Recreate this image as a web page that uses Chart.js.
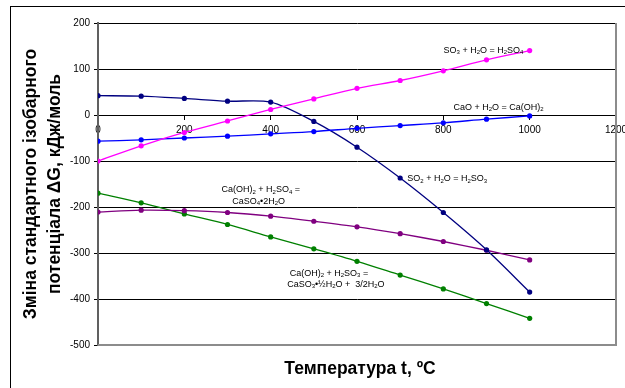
<!DOCTYPE html>
<html>
<head>
<meta charset="utf-8">
<script src="https://cdn.jsdelivr.net/npm/chart.js@4.4.0/dist/chart.umd.min.js"></script>
<style>
  html, body { margin: 0; padding: 0; background: #fff; }
</style>
</head>
<body>
<canvas id="myChart" width="625" height="388"></canvas>
<script>
// температура, °C
var temperatures = [0, 100, 200, 300, 400, 500, 600, 700, 800, 900, 1000];

// ΔG, кДж/моль
var so3Values    = [-100, -67, -38, -13, 12, 35, 58, 75, 96, 120, 140];
var caoValues    = [-57, -54, -50, -46, -41, -36, -29, -23, -17, -9, -2];
var so2Values    = [42, 41, 36, 30, 28, -14, -70, -137, -212, -293, -385];
var sulfatValues = [-211, -207, -208, -212, -220, -231, -243, -258, -275, -294, -315];
var sulfitValues = [-170, -191, -215, -238, -265, -291, -318, -348, -378, -410, -442];

var xTicks = [0, 200, 400, 600, 800, 1000, 1200];
var yTicks = [200, 100, 0, -100, -200, -300, -400, -500];

// "_" = следующий символ нижним индексом
var reactions = [
    ['SO_3 + H_2O = H_2SO_4'],
    ['CaO + H_2O = Ca(OH)_2'],
    ['SO_2 + H_2O = H_2SO_3'],
    ['Ca(OH)_2 + H_2SO_4 =', 'CaSO_4•2H_2O'],
    ['Ca(OH)_2 + H_2SO_3 =', 'CaSO_3•½H_2O +  3/2H_2O']
];

var yTitle = ['Зміна стандартного ізобарного', 'потенціала ΔG, кДж/моль'];
var xTitle = 'Температура t, ºC';

var FONT = '"Liberation Sans", Arial, sans-serif';

function points(values) {
    return values.map(function(v, i) { return { x: temperatures[i], y: v }; });
}

function serie(values, color) {
    return {
        data: points(values),
        borderColor: color,
        backgroundColor: color,
        borderWidth: 1.3,
        pointRadius: 2.6,
        pointBorderWidth: 0,
        tension: 0.3
    };
}

function drawChem(ctx, text, cx, cy, size) {
    var parts = [];
    for (var i = 0; i < text.length; i++) {
        if (text[i] === '_') { parts.push({ t: text[i + 1], sub: true }); i++; }
        else parts.push({ t: text[i], sub: false });
    }
    var big = size + 'px ' + FONT;
    var small = Math.round(size * 0.7) + 'px ' + FONT;
    var w = 0;
    parts.forEach(function(p) {
        ctx.font = p.sub ? small : big;
        p.w = ctx.measureText(p.t).width;
        w += p.w;
    });
    var x = cx - w / 2;
    ctx.textAlign = 'left';
    ctx.textBaseline = 'middle';
    parts.forEach(function(p) {
        ctx.font = p.sub ? small : big;
        ctx.fillText(p.t, x, p.sub ? cy + 2 : cy);
        x += p.w;
    });
}

// положения подписей (в единицах осей)
var labelPos = [
    [[893, 141]],
    [[928, 17]],
    [[809, -139]],
    [[377, -163], [372, -188]],
    [[535, -344], [551, -368]]
];

var decor = {
    id: 'decor',
    beforeDraw: function(chart) {
        var ctx = chart.ctx;
        ctx.save();
        ctx.strokeStyle = '#000';
        ctx.lineWidth = 1;
        ctx.strokeRect(10.5, 6.5, 700, 500);
        ctx.restore();
    },
    beforeDatasetsDraw: function(chart) {
        var ctx = chart.ctx, a = chart.chartArea;
        ctx.save();
        ctx.strokeStyle = '#8c8c8c';
        ctx.lineWidth = 2;
        ctx.beginPath();
        ctx.moveTo(a.right, a.top);
        ctx.lineTo(a.right, a.bottom);
        ctx.lineTo(a.left, a.bottom);
        ctx.stroke();
        ctx.restore();
    },
    afterDraw: function(chart) {
        var ctx = chart.ctx, a = chart.chartArea;
        var sx = chart.scales.x, sy = chart.scales.y;
        ctx.save();
        ctx.fillStyle = '#000';
        reactions.forEach(function(lines, i) {
            lines.forEach(function(line, j) {
                var p = labelPos[i][j];
                drawChem(ctx, line, sx.getPixelForValue(p[0]), sy.getPixelForValue(p[1]), 9);
            });
        });
        // подписи осей
        ctx.font = 'bold 17.5px ' + FONT;
        ctx.textAlign = 'center';
        ctx.textBaseline = 'middle';
        ctx.fillText(xTitle, (a.left + a.right) / 2 + 3, a.bottom + 24);
        var cy = (a.top + a.bottom) / 2;
        ctx.translate(31, cy);
        ctx.rotate(-Math.PI / 2);
        ctx.fillText(yTitle[0], 0, 0);
        ctx.fillText(yTitle[1], 0, 24);
        ctx.restore();
    }
};

var canvas  = document.getElementById('myChart');
var context = canvas.getContext('2d');

var myChart = new Chart(context, {
    type: 'line',
    data: {
        datasets: [
            serie(so3Values, '#ff00ff'),
            serie(caoValues, '#0000ff'),
            serie(so2Values, '#000080'),
            serie(sulfatValues, '#800080'),
            serie(sulfitValues, '#008000')
        ]
    },
    options: {
        responsive: false,
        animation: false,
        layout: { padding: { left: 10, top: 23, right: 9, bottom: 43 } },
        plugins: {
            legend: { display: false },
            tooltip: { enabled: false }
        },
        scales: {
            x: {
                type: 'linear',
                position: { y: 0 },
                min: xTicks[0],
                max: xTicks[xTicks.length - 1],
                afterBuildTicks: function(s) { s.ticks = xTicks.map(function(v) { return { value: v }; }); },
                afterFit: function(s) { s.paddingLeft = 0; s.paddingRight = 0; },
                grid: { drawOnChartArea: false, tickLength: 4, color: '#000' },
                border: { color: '#000', width: 1 },
                ticks: {
                    font: { family: FONT, size: 10 }, color: '#000', padding: 5, maxRotation: 0,
                    callback: function(v) { return String(v); }
                }
            },
            y: {
                min: yTicks[yTicks.length - 1],
                max: yTicks[0],
                afterBuildTicks: function(s) { s.ticks = yTicks.map(function(v) { return { value: v }; }); },
                afterFit: function(s) { s.width = 88; },
                grid: { color: '#000', lineWidth: 1, tickLength: 4 },
                border: { color: '#606060', width: 2 },
                ticks: {
                    font: { family: FONT, size: 10 }, color: '#000', padding: 4,
                    callback: function(v) { return String(v); }
                }
            }
        }
    },
    plugins: [decor]
});
</script>
</body>
</html>
